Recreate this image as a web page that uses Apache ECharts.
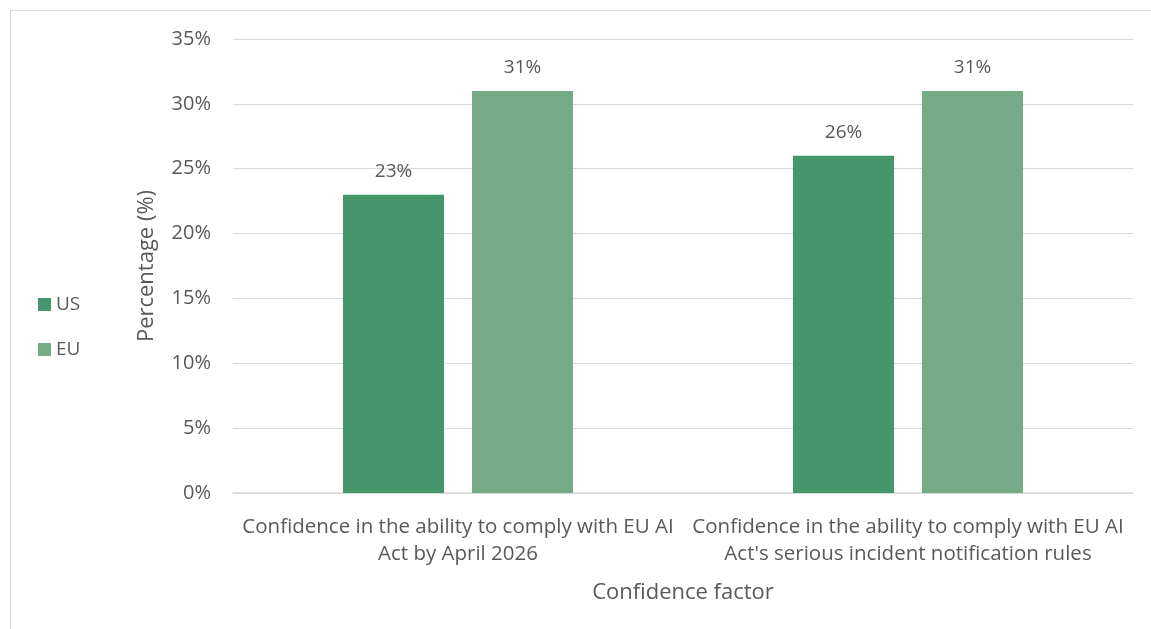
<!DOCTYPE html>
<html>
<head>
<meta charset="utf-8">
<script src="https://cdn.jsdelivr.net/npm/echarts@6/dist/echarts.min.js"></script>
<style>
  html, body { margin: 0; padding: 0; background: #fff; }
  #frame { position: absolute; left: 10px; top: 10px; width: 1150px; height: 640px; border: 1px solid #d9d9d9; box-sizing: border-box; }
  #chart { position: absolute; left: 0; top: 0; width: 1151px; height: 629px; }
</style>
</head>
<body>
<div id="frame"></div>
<div id="chart"></div>
<script>
const categories = [
  'Confidence in the ability to comply with EU AI\nAct by April 2026',
  "Confidence in the ability to comply with EU AI\nAct's serious incident notification rules"
];
const usValues = [23, 26];
const euValues = [31, 31];
const seriesNames = ['US', 'EU'];

const FONT = '"Open Sans", "Noto Sans", sans-serif';
const TEXT = '#595959';

const chart = echarts.init(document.getElementById('chart'), null, { renderer: 'canvas' });

const labelCfg = {
  show: true,
  position: 'top',
  distance: 14,
  formatter: p => p.value + '%',
  color: TEXT,
  fontFamily: FONT,
  fontSize: 19
};

chart.setOption({
  animation: false,
  grid: { left: 233, right: 18, top: 39, bottom: 136, containLabel: false },
  legend: {
    orient: 'vertical',
    left: 33,
    top: 290,
    itemWidth: 13,
    itemHeight: 13,
    itemGap: 26,
    icon: 'rect',
    textStyle: { color: TEXT, fontFamily: FONT, fontSize: 19 },
    data: seriesNames
  },
  xAxis: {
    type: 'category',
    data: categories,
    name: 'Confidence factor',
    nameLocation: 'middle',
    nameGap: 89,
    nameTextStyle: { color: TEXT, fontFamily: FONT, fontSize: 22 },
    axisLine: { show: true, lineStyle: { color: '#d9d9d9', width: 1.5 } },
    axisTick: { show: false },
    axisLabel: { color: TEXT, fontFamily: FONT, fontSize: 20.5, lineHeight: 27, margin: 21, interval: 0 }
  },
  yAxis: {
    type: 'value',
    min: 0,
    max: 35,
    interval: 5,
    name: 'Percentage (%)',
    nameLocation: 'middle',
    nameGap: 75,
    nameTextStyle: { color: TEXT, fontFamily: FONT, fontSize: 22 },
    axisLine: { show: false },
    axisTick: { show: false },
    splitLine: { lineStyle: { color: '#d9d9d9', width: 1.2 } },
    axisLabel: { color: TEXT, fontFamily: FONT, fontSize: 20, margin: 22, formatter: v => v + '%' }
  },
  series: [
    {
      name: seriesNames[0],
      type: 'bar',
      data: usValues,
      barWidth: 101,
      barGap: '27.7%',
      itemStyle: { color: '#45966b' },
      label: labelCfg
    },
    {
      name: seriesNames[1],
      type: 'bar',
      data: euValues,
      barWidth: 101,
      barGap: '27.7%',
      itemStyle: { color: '#75ab87' },
      label: labelCfg
    }
  ]
});
</script>
</body>
</html>
